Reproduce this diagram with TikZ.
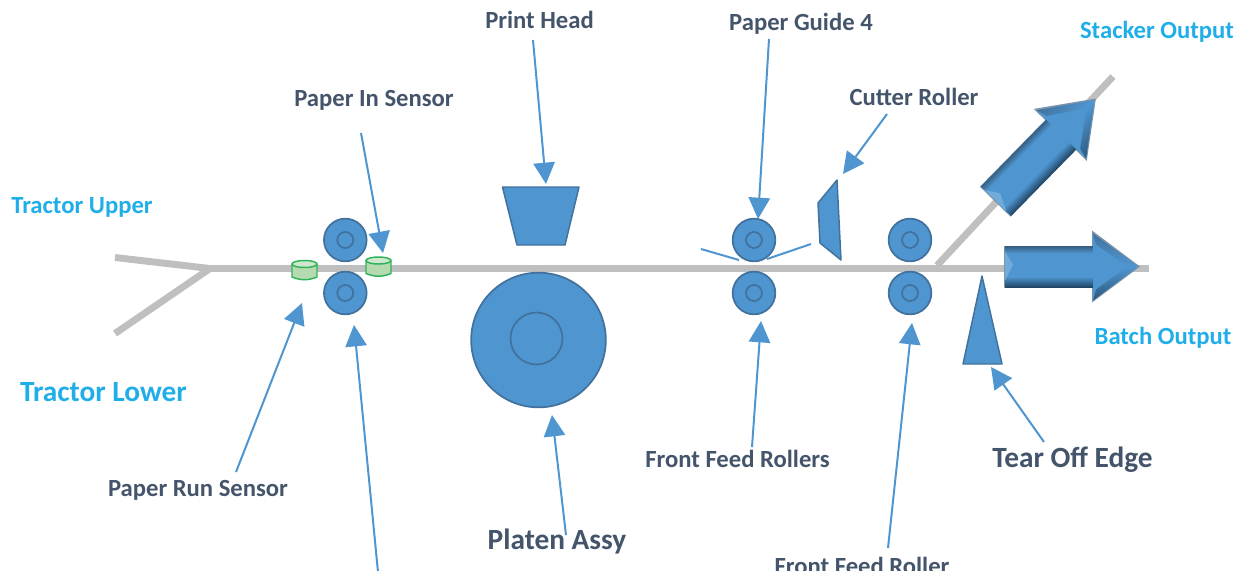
\documentclass[tikz,border=0pt]{standalone}
\usepackage{fontspec}
\setmainfont{Carlito}
\usetikzlibrary{arrows.meta,shadings}
\definecolor{blu}{HTML}{4F96D1}
\definecolor{edgeb}{HTML}{41719C}
\definecolor{txtd}{HTML}{44546A}
\definecolor{txtc}{HTML}{1FAEE8}
\definecolor{gry}{HTML}{BFBFBF}
\definecolor{grn}{HTML}{2DB45A}
\definecolor{lgrn}{HTML}{B5DAB0}
\definecolor{bevel}{HTML}{7F93A8}
\definecolor{navy}{HTML}{1F4260}
\tikzset{
  x=0.75pt,y=-0.75pt,
  paper/.style={draw=gry,line width=5.2pt},
  roll/.style={draw=edgeb,fill=blu,line width=1.3pt},
  solid shape/.style={draw=edgeb,fill=blu,line width=1.1pt,line join=round},
  lead/.style={draw=blu,line width=1.5pt,-{Triangle[length=16pt,width=16pt]}},
  plainlead/.style={draw=blu,line width=1.5pt},
  lab/.style={text=txtd,font=\bfseries\fontsize{18.5pt}{20pt}\selectfont,inner sep=0pt,anchor=base},
  labbig/.style={text=txtd,font=\bfseries\fontsize{22pt}{24pt}\selectfont,inner sep=0pt,anchor=base},
  cy/.style={text=txtc,font=\bfseries\fontsize{18.5pt}{20pt}\selectfont,inner sep=0pt,anchor=base},
  cybig/.style={text=txtc,font=\bfseries\fontsize{22pt}{24pt}\selectfont,inner sep=0pt,anchor=base},
}
\newcommand{\sensorshape}[2]{%
  \fill[lgrn] (#1-12.5,#2) rectangle (#1+12.5,#2+13);
  \fill[lgrn] (#1-12.5,#2+13) to[out=-25,in=205] (#1+12.5,#2+13) -- cycle;
  \draw[grn,line width=1.1pt] (#1-12.5,#2) -- (#1-12.5,#2+13) to[out=-22,in=202] (#1+12.5,#2+13) -- (#1+12.5,#2);
  \draw[grn,line width=1.1pt,fill=lgrn!65!white] (#1,#2) ellipse (12.5 and 3.5);
}
\newcommand{\outarrow}{%
  \fill[bevel] (0,-20.5) -- (88,-20.5) -- (88,-36) -- (136,0) -- (88,36) -- (88,21) -- (0,21) -- cycle;
  % body
  \fill[blu] (1,-20) rectangle (89,20.5);
  \shade[top color=edgeb!85!black,bottom color=blu] (1,-20) rectangle (89,-13);
  \shade[top color=blu,bottom color=navy] (1,10) rectangle (89,21);
  \fill[blu!80!white] (1,-15) -- (9,-2) -- (1,14) -- cycle;
  % head
  \fill[blu] (89,-33) -- (134,0) -- (89,34) -- cycle;
  \shade[top color=edgeb,bottom color=blu] (89,-33) -- (134,0) -- (122,-1) -- (92,-22) -- cycle;
  \shade[top color=blu,bottom color=navy!75!blu] (89,34) -- (134,0) -- (122,1) -- (92,23) -- cycle;
}
\begin{document}
\begin{tikzpicture}
\useasboundingbox (0,0) rectangle (1254,576);
% paper path
\coordinate (t1) at (115,257.5);
\coordinate (t2) at (115,333.5);
\coordinate (j1) at (210,268.5);
\coordinate (pend) at (1149,268.5);
\coordinate (s1) at (937,265.5);
\coordinate (s2) at (1113,76.5);
\draw[paper] (t1) -- (j1);
\draw[paper] (t2) -- (j1);
\draw[paper] (207,268.5) -- (pend);
\draw[paper] (s1) -- (s2);
% rollers
\foreach \n/\x/\y in {a/345.3/240,b/345.3/293,c/754/240,d/754/293,e/910/240,f/910/293}{
  \node[roll,circle,minimum size=32pt,inner sep=0pt] (\n) at (\x,\y) {};
  \draw[edgeb,line width=1.3pt] (\x,\y) circle (8);
}
% platen
\node[roll,circle,minimum size=101pt,inner sep=0pt] (platen) at (538.5,340) {};
\draw[edgeb,line width=1.3pt] (536.5,338.5) circle (26);
% print head
\draw[solid shape] (502.5,187) -- (579,187) -- (565,245) -- (517,245) -- cycle;
\coordinate (head) at (546,184);
% sensors
\sensorshape{304.5}{264}
\sensorshape{378.5}{260.5}
% paper guide flaps
\coordinate (g1) at (701,249);
\coordinate (g2) at (739,260);
\coordinate (g3) at (767,259);
\coordinate (g4) at (811,244);
\draw[plainlead] (g1) -- (g2);
\draw[plainlead] (g3) -- (g4);
% cutter
\draw[solid shape] (837,180) -- (818,203) -- (820,243) -- (841,260) -- cycle;
% tear off
\draw[solid shape] (982,276) -- (1002,364) -- (963,364) -- cycle;
% output arrows
\begin{scope}[transform canvas={shift={(1004,266.5)}}]
 \outarrow
\end{scope}
\begin{scope}[transform canvas={shift={(995,201.5)},rotate=45.6,xscale=1.06,yscale=1.03}]
 \outarrow
\end{scope}
% labels
\node[cy] (tu) at (82,213) {Tractor Upper};
\node[cybig] (tl) at (103.5,401) {Tractor Lower};
\node[lab] (prs) at (198,496) {Paper Run Sensor};
\node[lab] (pis) at (374,106) {Paper In Sensor};
\node[lab] (ph) at (539.5,28) {Print Head};
\node[lab] (pg) at (801,30) {Paper Guide 4};
\node[lab] (cr) at (914,105) {Cutter Roller};
\node[cy] (so) at (1157,38) {Stacker Output};
\node[cy] (bo) at (1163,344.5) {Batch Output};
\node[lab] (ffr) at (737.5,467) {Front Feed Rollers};
\node[labbig] (toe) at (1072.5,467.5) {Tear Off Edge};
\node[labbig] (pa) at (557,549) {Platen Assy};
\node[lab] (ffr2) at (862,574) {Front Feed Roller};
% leads
\coordinate (x1) at (236,472);
\coordinate (x2) at (302,303);
\coordinate (x3) at (361,133);
\coordinate (x4) at (383,253);
\coordinate (x5) at (378,572);
\coordinate (x6) at (354,325);
\coordinate (x7) at (533,40);
\coordinate (x8) at (769,39);
\coordinate (x9) at (758,219);
\coordinate (x10) at (887,114);
\coordinate (x11) at (843,174);
\coordinate (x12) at (566,535);
\coordinate (x13) at (552,415);
\coordinate (x14) at (752,447);
\coordinate (x15) at (761,321);
\coordinate (x16) at (888,548);
\coordinate (x17) at (912,323);
\coordinate (x18) at (1044,442);
\coordinate (x19) at (991,367);
\draw[lead] (x1) -- (x2);
\draw[lead] (x3) -- (x4);
\draw[lead] (x5) -- (x6);
\draw[lead] (x7) -- (head);
\draw[lead] (x8) -- (x9);
\draw[lead] (x10) -- (x11);
\draw[lead] (x12) -- (x13);
\draw[lead] (x14) -- (x15);
\draw[lead] (x16) -- (x17);
\draw[lead] (x18) -- (x19);
% the reference is cut off here
\fill[white] (0,570.5) rectangle (1254,576);
\end{tikzpicture}
\end{document}
